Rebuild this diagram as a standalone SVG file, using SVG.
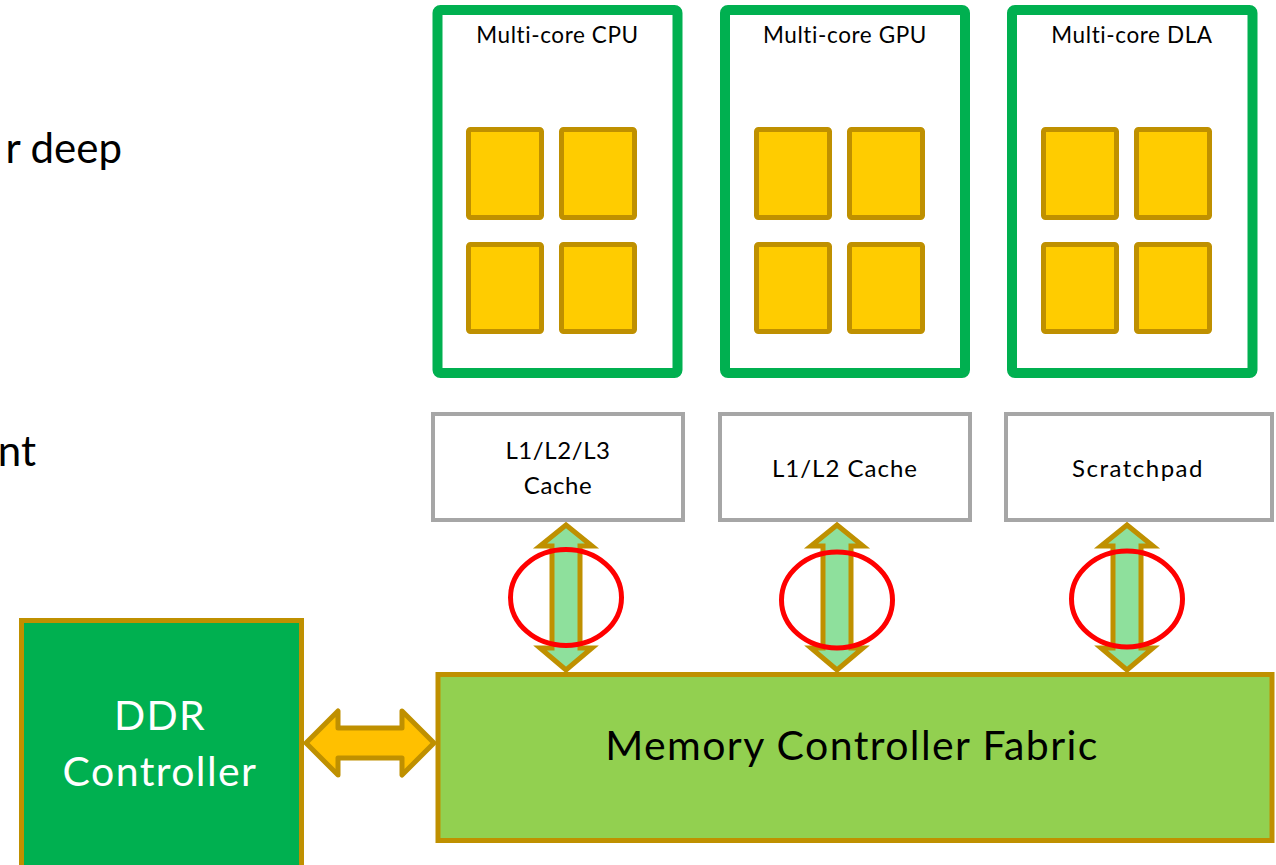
<svg xmlns="http://www.w3.org/2000/svg" width="1276" height="865" viewBox="0 0 1276 865">
<style>
.proc{fill:#FFFFFF;stroke:#00B050;stroke-width:10}
.core{fill:#FFCC00;stroke:#BF9000;stroke-width:5}
.cache{fill:#FFFFFF;stroke:#A6A6A6;stroke-width:4}
.t{font-family:Lato,"Liberation Sans",sans-serif;fill:#000000;text-anchor:middle}
.title{font-size:22.5px;letter-spacing:0.6px}
.ct{font-size:24px}
.big{font-size:41px;letter-spacing:1.4px}
.white{fill:#FFFFFF}
.vbus{fill:#8EE09C;stroke:#BF9000;stroke-width:5;stroke-linejoin:miter}
.ring{fill:none;stroke:#FF0000;stroke-width:5}
</style>
<g id="side-text">
<text x="122" y="163" font-family="Lato,'Liberation Sans',sans-serif" font-size="42" text-anchor="end" fill="#000">r deep</text>
<text x="36" y="466" font-family="Lato,'Liberation Sans',sans-serif" font-size="42" text-anchor="end" fill="#000">nt</text>
</g>
<g id="cpu">
<rect class="proc" x="437.5" y="10" width="240" height="363" rx="3"/>
<text class="t title" x="557.5" y="43">Multi-core CPU</text>
<rect class="core" x="468.5" y="129.5" width="73" height="88" rx="2"/>
<rect class="core" x="561.5" y="129.5" width="73" height="88" rx="2"/>
<rect class="core" x="468.5" y="244.5" width="73" height="87" rx="2"/>
<rect class="core" x="561.5" y="244.5" width="73" height="87" rx="2"/>
</g>
<g id="gpu">
<rect class="proc" x="725" y="10" width="240" height="363" rx="3"/>
<text class="t title" x="845" y="43">Multi-core GPU</text>
<rect class="core" x="756.5" y="129.5" width="73" height="88" rx="2"/>
<rect class="core" x="849.5" y="129.5" width="73" height="88" rx="2"/>
<rect class="core" x="756.5" y="244.5" width="73" height="87" rx="2"/>
<rect class="core" x="849.5" y="244.5" width="73" height="87" rx="2"/>
</g>
<g id="dla">
<rect class="proc" x="1012" y="10" width="240.5" height="363" rx="3"/>
<text class="t title" x="1132" y="43">Multi-core DLA</text>
<rect class="core" x="1043.5" y="129.5" width="73" height="88" rx="2"/>
<rect class="core" x="1136.5" y="129.5" width="73" height="88" rx="2"/>
<rect class="core" x="1043.5" y="244.5" width="73" height="87" rx="2"/>
<rect class="core" x="1136.5" y="244.5" width="73" height="87" rx="2"/>
</g>
<g id="cpu-cache">
<rect class="cache" x="433" y="414" width="250" height="106"/>
<text class="t ct" x="558" y="459" letter-spacing="0.6">L1/L2/L3</text>
<text class="t ct" x="558" y="494" letter-spacing="0.6">Cache</text>
</g>
<g id="gpu-cache">
<rect class="cache" x="720" y="414" width="250" height="106"/>
<text class="t ct" x="845" y="477" letter-spacing="1">L1/L2 Cache</text>
</g>
<g id="dla-cache">
<rect class="cache" x="1006" y="414" width="266" height="106"/>
<text class="t ct" x="1138" y="477" letter-spacing="1.5">Scratchpad</text>
</g>
<g id="fabric">
<rect x="438" y="674.5" width="834" height="166" fill="#92D050" stroke="#BF9000" stroke-width="5"/>
<text class="t big" x="852" y="760">Memory Controller Fabric</text>
</g>
<g id="ddr">
<rect x="21.5" y="620.5" width="280" height="260" fill="#00B050" stroke="#BF9000" stroke-width="5"/>
<text class="t big white" x="160" y="730">DDR</text>
<text class="t big white" x="160" y="786">Controller</text>
</g>
<g id="connectors">
<polygon class="vbus" points="566,525 592,546 580,546 580,648 592,648 566,670 540,648 552,648 552,546 540,546"/>
<polygon class="vbus" points="837,525 863,546 851,546 851,648 863,648 837,670 811,648 823,648 823,546 811,546"/>
<polygon class="vbus" points="1127,525 1153,546 1141,546 1141,648 1153,648 1127,670 1101,648 1113,648 1113,546 1101,546"/>
<polygon points="306,743 338,711 338,728 402,728 402,711 434,743 402,775 402,758 338,758 338,775" fill="#FFC000" stroke="#BF9000" stroke-width="5" stroke-linejoin="round"/>
<ellipse class="ring" cx="566" cy="597.5" rx="55.5" ry="48"/>
<ellipse class="ring" cx="837" cy="600" rx="55.5" ry="48"/>
<ellipse class="ring" cx="1127" cy="599" rx="55.5" ry="48"/>
</g>
</svg>
